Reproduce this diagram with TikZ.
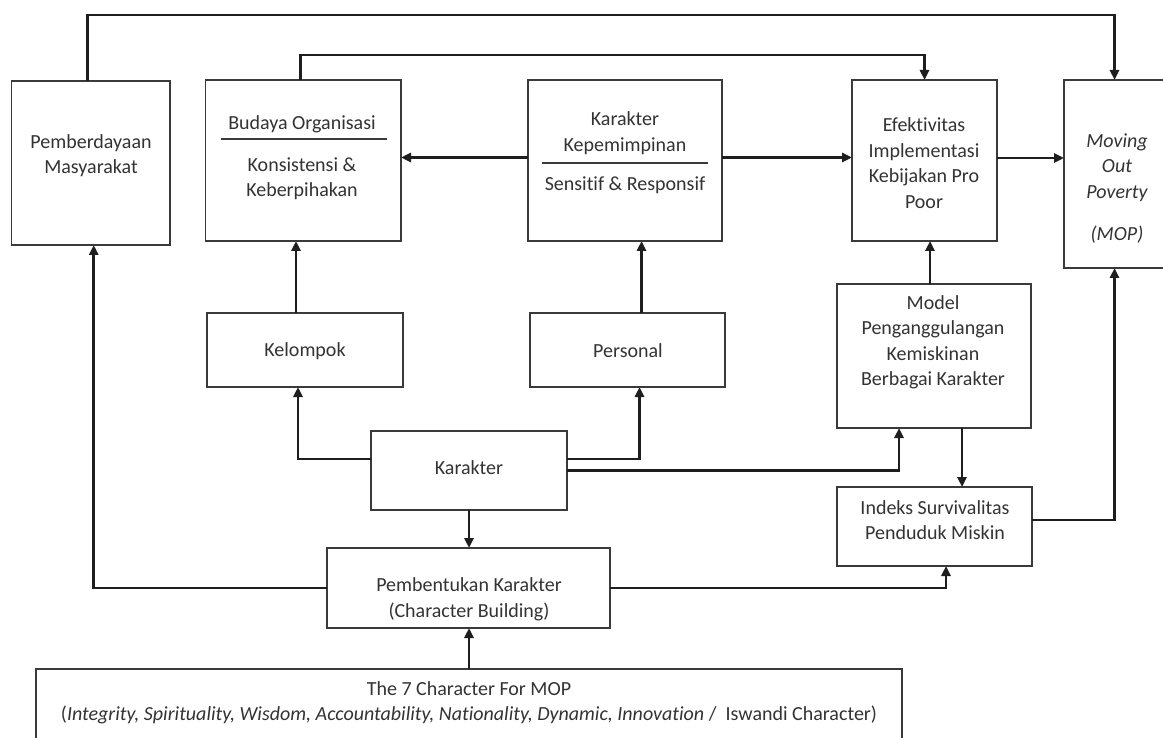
\documentclass[tikz,border=0pt]{standalone}
\usepackage{fontspec}
\setmainfont{Carlito}[Ligatures=NoCommon]
\usetikzlibrary{arrows.meta}
\definecolor{boxc}{HTML}{3A3A3A}
\definecolor{linec}{HTML}{1E1E1E}
\definecolor{txtc}{HTML}{333333}
\begin{document}
\begin{tikzpicture}[x=1pt,y=-1pt,
 box/.style={draw=boxc,line width=1.3pt,inner sep=0pt,outer sep=0pt,anchor=north west,fill=white},
 txt/.style={font=\fontsize{20}{25.5}\selectfont,text=txtc,align=center,inner sep=0pt},
 conn/.style={draw=linec,line width=2.9pt},
 arr/.style={conn,-{Triangle[length=10pt,width=9pt]}},
 rulel/.style={draw=boxc,line width=1.3pt}]
\useasboundingbox (0,0) rectangle (1163,738);
\clip (0,0) rectangle (1163,738);
\fill[white] (0,0) rectangle (1163,738);
% boxes
\node[box,minimum width=158.5pt,minimum height=164pt] (pemb) at (11.5,81) {};
\node[box,minimum width=195.5pt,minimum height=161pt] (bud) at (205.5,80) {};
\node[box,minimum width=194pt,minimum height=161pt] (kk) at (528,80) {};
\node[box,minimum width=145pt,minimum height=161pt] (efek) at (852,80) {};
\node[box,minimum width=101pt,minimum height=188pt] (mop) at (1064,80) {};
\node[box,minimum width=196pt,minimum height=74pt] (kel) at (207,313) {};
\node[box,minimum width=195pt,minimum height=74pt] (per) at (530,313) {};
\node[box,minimum width=196pt,minimum height=79pt] (kar) at (371,431) {};
\node[box,minimum width=194pt,minimum height=144pt] (mod) at (837,284) {};
\node[box,minimum width=195pt,minimum height=79pt] (ind) at (837,487) {};
\node[box,minimum width=283pt,minimum height=80pt] (pbk) at (327,548) {};
\node[box,minimum width=866pt,minimum height=80pt] (sev) at (36,669) {};
% texts
\node[txt] (tpemb) at (91,155.5) {Pemberdayaan\\Masyarakat};
\node[txt] (tbud1) at (302,124) {Budaya Organisasi};
\draw[rulel] (221,139) -- (387,139);
\node[txt] (tbud2) at (302,178.5) {Konsistensi \&\\Keberpihakan};
\node[txt] (tkk1) at (625,133) {Karakter\\Kepemimpinan};
\draw[rulel] (542,163) -- (708,163);
\node[txt] (tkk2) at (625,185) {Sensitif \& Responsif};
\node[txt] (tefek) at (924,163) {Efektivitas\\Implementasi\\Kebijakan Pro\\Poor};
\node[txt] (tmop1) at (1117,167.5) {\itshape Moving\\\itshape Out\\\itshape Poverty};
\node[txt] (tmop2) at (1117,235) {\itshape (MOP)};
\node[txt] (tkel) at (305,351) {Kelompok};
\node[txt] (tper) at (628,351) {Personal};
\node[txt] (tkar) at (469,468) {Karakter};
\node[txt] (tmod) at (933,342.5) {Model\\Penganggulangan\\Kemiskinan\\Berbagai Karakter};
\node[txt] (tind) at (935,520) {Indeks Survivalitas\\Penduduk Miskin};
\node[txt] (tpbk) at (469,599.5) {Pembentukan Karakter\\(Character Building)};
\node[txt] (tsev) at (469,703) {The 7 Character For MOP\\(\textit{Integrity, Spirituality, Wisdom, Accountability, Nationality, Dynamic, Innovation} /\ \ Iswandi Character)};
% connectors
\coordinate (t1) at (0,15);
\coordinate (t2) at (0,55);
\draw[arr] ([xshift=-3pt]pemb.north) -- ([xshift=-3pt]pemb.north |- t1) -- (mop.north |- t1) -- (mop.north);
\draw[arr] ([xshift=-3pt]bud.north) -- ([xshift=-3pt]bud.north |- t2) -- (efek.north |- t2) -- (efek.north);
\draw[arr] ([yshift=3pt]kk.west) -- ([yshift=3pt]kk.west -| bud.east);
\draw[arr] ([yshift=3pt]kk.east) -- ([yshift=3pt]kk.east -| efek.west);
\draw[arr] ([yshift=2.5pt]efek.east) -- ([yshift=2.5pt]efek.east -| mop.west);
\draw[arr] ([xshift=-9pt]kel.north) -- ([xshift=-9pt]kel.north |- bud.south);
\draw[arr] ([yshift=11.5pt]kar.west) -| ([xshift=-7pt]kel.south);
\draw[arr] ([yshift=11.5pt]kar.east) -| ([xshift=12pt]per.south);
\draw[arr] ([xshift=14pt]per.north) -- ([xshift=14pt]per.north |- kk.south);
\draw[arr] (kar.east) -| ([xshift=-35pt]mod.south);
\draw[arr] ([xshift=-4pt]mod.north) -- ([xshift=-4pt]mod.north |- efek.south);
\draw[arr] (kar.south) -- (kar.south |- pbk.north);
\draw[arr] ([xshift=28pt]mod.south) -- ([xshift=28pt]mod.south |- ind.north);
\draw[arr] ([yshift=6.5pt]ind.east) -| (mop.south);
\draw[arr] (pbk.west) -| ([xshift=3pt]pemb.south);
\draw[arr] (pbk.east) -| ([xshift=11.5pt]ind.south);
\draw[arr] (sev.north) -- (sev.north |- pbk.south);
\end{tikzpicture}
\end{document}
